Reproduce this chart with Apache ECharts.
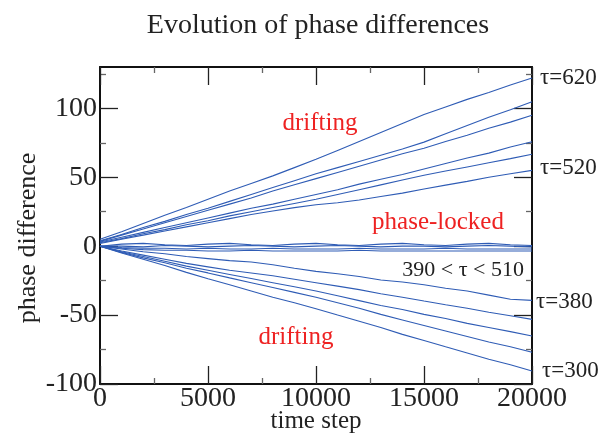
<!DOCTYPE html>
<html><head><meta charset="utf-8">
<script src="https://cdn.jsdelivr.net/npm/echarts@6/dist/echarts.min.js"></script>
<style>html,body{margin:0;padding:0;background:#fff}#c{width:605px;height:436px}</style>
</head><body><div id="c"></div>
<script>
const timeSteps = [0,1000,2000,3000,4000,5000,6000,7000,8000,9000,10000,11000,12000,13000,14000,15000,16000,17000,18000,19000,20000];
const up1 = [5,10.5,16.5,22.5,28,34,40,45.5,51,57,63,69.5,76,82.5,89,95.5,101,106.5,111.5,117,122];
const up2 = [4,8.5,13.5,18,23,27.5,32.5,37.5,42.5,47.5,52.5,57,61.5,66,70.5,75.5,81.5,87.5,93.5,99,104.8];
const up3 = [3.5,8,12.5,17,21.5,26,30.5,35,40,44.5,49,53.5,58,62.5,67,71,76,80.5,85.5,90,95];
const up4 = [3,6.5,10,13.5,17,20.5,24,27.5,30.5,34,37.5,41,45,48.5,52,56,60,64,67.5,72,75.7];
const up5 = [2.5,5.5,9,12,15.5,18.5,22,25,28,31,34,37.5,41,44.5,48,51.5,54.5,57.5,60.5,63.5,66.7];
const up6 = [2,5,8,11,14,17,20,23,25.5,28,30,31.5,33.5,36,38.5,41.5,44.3,47,50,52.5,55];
const lock1 = [0,1.5,2,1,0.5,1.5,2,1,0.5,1.5,2,1,0.5,1.5,2,1,0.5,1.5,2,1,0.5];
const lock2 = [0,0,-0.5,0.5,0,-0.5,0,0.5,0,-0.5,0,0.5,0,-0.5,0,0,-0.5,0,0.5,0,-0.5];
const lock3 = [0,-1,-1.5,-1.5,-2,-1.5,-2,-2,-1.5,-2,-2,-2,-1.5,-2,-2,-2,-1.5,-2,-2,-2,-2];
const lock4 = [0,-1.5,-2.5,-3,-3,-3.5,-3.5,-3,-3.5,-3.5,-3.5,-3.5,-3,-3.5,-3.5,-3.5,-3.5,-3.5,-3.5,-3.5,-3.5];
const down1 = [0,-2,-4,-5.5,-7.5,-9,-10.5,-11.5,-13.5,-16,-18.3,-20,-22,-24.5,-26,-28,-30.5,-32.5,-35.5,-38.5,-39.3];
const down2 = [0,-3.5,-6.5,-9.5,-12.5,-15,-17.5,-19.5,-21.5,-24,-26.5,-29,-31.5,-34.5,-37,-39.8,-42.5,-45,-48,-50.5,-53.1];
const down3 = [0,-4,-7.5,-11,-14.5,-17.5,-20.5,-23.5,-26.5,-29.5,-32.5,-36,-39.5,-43,-46,-49.5,-52.5,-56,-59,-62,-65.2];
const down4 = [0,-4.5,-8.5,-12,-16,-19.4,-23,-26.5,-30,-33.5,-37,-41,-45,-49.5,-53.5,-57.5,-61.5,-65.5,-69.5,-73,-76.9];
const down5 = [0,-5,-9.5,-14,-19,-23.6,-28,-32.5,-37,-41,-45.4,-50,-54.5,-59,-64,-68.4,-73,-77.5,-82,-86,-90.5];
const allSeries = [up1,up2,up3,up4,up5,up6,lock1,lock2,lock3,lock4,down1,down2,down3,down4,down5];
const yMajor = [-100,-50,0,50,100];
const yMinor = [-75,-25,25,75,125];

const SERIF = '"Liberation Serif","DejaVu Serif",serif';
const chart = echarts.init(document.getElementById('c'), null, {renderer:'canvas'});
const baseX = {type:'value', min:0, max:20000, interval:5000, splitLine:{show:false},
  axisLine:{onZero:false, lineStyle:{color:'#111', width:2}},
  axisTick:{inside:true, length:18, lineStyle:{color:'#222', width:1.3}},
  minorTick:{show:true, splitNumber:2, length:6, lineStyle:{color:'#666', width:1.3}}};
const yAx = (pos, vals, len, labels, line, color) => ({type:'value', min:-100, max:130, position:pos,
  splitLine:{show:false},
  axisLine:{show:line, onZero:false, lineStyle:{color:'#111', width:2}},
  axisTick:{inside:true, length:len, customValues:vals, lineStyle:{color:color, width:1.3}},
  axisLabel:labels ? {customValues:yMajor, fontFamily:SERIF, fontSize:28, color:'#222', margin:3} : {show:false}});
const text = (x,y,t,fill,size,align,rot) => ({type:'text', x:x, y:y, rotation:rot||0, style:{text:t, fill:fill, font:size+'px '+SERIF, align:align||'left', verticalAlign:'middle'}});
const option = {
  animation:false,
  grid:{left:100, top:67, right:73, bottom:52, outerBoundsMode:'none', containLabel:false},
  xAxis:[
    Object.assign({}, baseX, {position:'bottom',
      axisLabel:{fontFamily:SERIF, fontSize:28, color:'#222', margin:1, formatter:v=>String(v)}}),
    Object.assign({}, baseX, {position:'top', axisLabel:{show:false}})
  ],
  yAxis:[
    yAx('left', yMajor, 18, true, true, '#222'),
    yAx('left', yMinor, 6, false, false, '#666'),
    yAx('right', yMajor, 18, false, true, '#222'),
    yAx('right', yMinor, 6, false, false, '#666')
  ],
  series: allSeries.map(d => ({type:'line', xAxisIndex:0, yAxisIndex:0, showSymbol:false, silent:true,
    data: timeSteps.map((t,i)=>[t,d[i]]), lineStyle:{color:'#2f5cb5', width:1.1}})),
  graphic:[
    text(318,26,'Evolution of phase differences','#222',28,'center'),
    text(316,421,'time step','#222',25,'center'),
    text(28,238,'phase difference','#222',26,'center',Math.PI/2),
    text(540,78,'τ=620','#222',23),
    text(540,168,'τ=520','#222',23),
    text(536,302,'τ=380','#222',23),
    text(542,371,'τ=300','#222',23),
    text(524,270,'390 < τ < 510','#222',22,'right'),
    text(320,123,'drifting','#ee2222',25,'center'),
    text(438,222,'phase-locked','#ee2222',25,'center'),
    text(296,337,'drifting','#ee2222',25,'center')
  ]
};
chart.setOption(option);
</script></body></html>
